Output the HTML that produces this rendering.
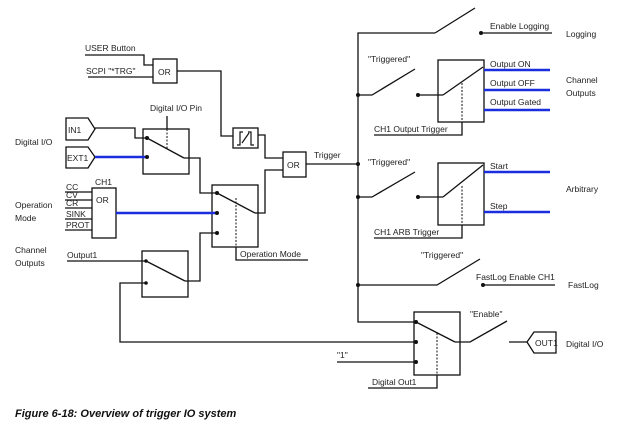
<!DOCTYPE html>
<html><head><meta charset="utf-8"><style>
html,body{margin:0;padding:0;background:#fff;}
svg{display:block}
text{font-family:"Liberation Sans",sans-serif;font-size:8.5px;fill:#222}
</style></head><body>
<svg width="619" height="436" viewBox="0 0 619 436" xmlns="http://www.w3.org/2000/svg">
<g fill="none" stroke="#111" stroke-width="1.3">
<!-- USER/SCPI OR -->
<polyline points="85,55 144,55 144,65 153,65"/>
<line x1="88" y1="77" x2="153" y2="77"/>
<rect x="153" y="59" width="24" height="24"/>
<polyline points="177,71 221,71 221,136 233,136"/>
<rect x="233" y="128" width="25" height="20"/>
<polyline points="258,135 265,135 265,158 283,158"/>
<rect x="283" y="152" width="23" height="25"/>
<line x1="306" y1="164" x2="358" y2="164"/>
<polyline points="258,213 265,213 265,170 283,170"/>
<!-- Digital IO pin -->
<line x1="167" y1="116" x2="167" y2="129"/>
<rect x="143" y="129" width="46" height="45"/>
<polyline points="95,128 135,128 135,138 147,138"/>
<line x1="147" y1="138" x2="184" y2="158"/>
<polyline points="184,158 200,158 200,193 217,193"/>
<polygon points="66,118 88,118 95,129 88,140 66,140"/>
<polygon points="66,147 88,147 95,157 88,168 66,168"/>
<!-- CH1 OR -->
<rect x="92" y="188" width="24" height="50"/>
<line x1="65" y1="192" x2="92" y2="192"/><line x1="65" y1="200" x2="92" y2="200"/>
<line x1="65" y1="208" x2="92" y2="208"/><line x1="65" y1="219" x2="92" y2="219"/>
<line x1="65" y1="230" x2="92" y2="230"/>
<!-- Op mode box -->
<rect x="212" y="185" width="46" height="62"/>
<line x1="217" y1="193" x2="255" y2="213"/>
<line x1="255" y1="213" x2="258" y2="213"/>
<polyline points="236,247 236,260 308,260"/>
<!-- Output1 box -->
<line x1="67" y1="261" x2="146" y2="261"/>
<rect x="142" y="251" width="46" height="46"/>
<line x1="146" y1="261" x2="185" y2="281"/>
<polyline points="185,281 200,281 200,233 217,233"/>
<polyline points="146,283 120,283 120,342 416,342"/>
<!-- Bus -->
<polyline points="435,33 358,33 358,322 416,322"/>
<line x1="435" y1="33" x2="475" y2="8"/>
<line x1="481" y1="33" x2="552" y2="33"/>
<!-- Output trigger -->
<polyline points="358,95 372,95 415,69"/>
<line x1="418" y1="95" x2="443" y2="95"/>
<rect x="438" y="60" width="46" height="62"/>
<line x1="443" y1="95" x2="483" y2="67"/>
<polyline points="462,122 462,135 374,135"/>
<!-- ARB trigger -->
<polyline points="358,197 372,197 415,172"/>
<line x1="418" y1="197" x2="443" y2="197"/>
<rect x="438" y="163" width="46" height="62"/>
<line x1="443" y1="197" x2="483" y2="165"/>
<polyline points="462,225 462,238 374,238"/>
<!-- FastLog -->
<polyline points="358,285 437,285 480,259"/>
<line x1="483" y1="285" x2="555" y2="285"/>
<!-- Digital out -->
<rect x="414" y="312" width="46" height="63"/>
<line x1="416" y1="322" x2="455" y2="342"/>
<polyline points="455,342 470,342 507,321"/>
<line x1="337" y1="362" x2="416" y2="362"/>
<polyline points="437,375 437,388 368,388"/>
<line x1="509" y1="342" x2="527" y2="342"/>
<polygon points="527,342 534,332 556,332 556,353 534,353"/>
</g>
<g stroke="#111" stroke-width="1" stroke-dasharray="2,1.5" fill="none">
<line x1="167" y1="129" x2="167" y2="150"/>
<line x1="236" y1="198" x2="236" y2="247"/>
<line x1="462" y1="83" x2="462" y2="122"/>
<line x1="462" y1="186" x2="462" y2="225"/>
<line x1="437" y1="333" x2="437" y2="375"/>
</g>
<!-- edge symbol -->
<g stroke="#111" stroke-width="1.2" fill="none">
<polyline points="237,145 240,145 240,132 243,132"/><polyline points="248,132 251,132 251,145 254,145"/>
<line x1="242" y1="143" x2="249" y2="133"/>
</g>
<g stroke="#1a2ee0" stroke-width="2.6">
<line x1="95" y1="157" x2="147" y2="157"/>
<line x1="116" y1="213" x2="217" y2="213"/>
<line x1="484" y1="70" x2="550" y2="70"/><line x1="484" y1="90" x2="550" y2="90"/>
<line x1="484" y1="110" x2="550" y2="110"/>
<line x1="484" y1="172" x2="550" y2="172"/><line x1="484" y1="212" x2="550" y2="212"/>
</g>
<g fill="#111">
<circle cx="147" cy="138" r="2"/><circle cx="147" cy="157" r="2"/>
<circle cx="217" cy="193" r="2"/><circle cx="217" cy="213" r="2"/><circle cx="217" cy="233" r="2"/>
<circle cx="146" cy="261" r="1.8"/><circle cx="146" cy="283" r="1.8"/>
<circle cx="481" cy="33" r="2"/><circle cx="358" cy="95" r="2"/><circle cx="418" cy="95" r="2"/>
<circle cx="358" cy="164" r="2"/><circle cx="358" cy="197" r="2"/><circle cx="418" cy="197" r="2"/>
<circle cx="358" cy="285" r="2"/><circle cx="483" cy="285" r="2"/>
<circle cx="416" cy="322" r="2"/><circle cx="416" cy="342" r="2"/><circle cx="416" cy="362" r="2"/>
</g>
<text x="85" y="51">USER Button</text>
<text x="86" y="74">SCPI "*TRG"</text>
<text x="158" y="75">OR</text>
<text x="287" y="168">OR</text>
<text x="314" y="158">Trigger</text>
<text x="150" y="111">Digital I/O Pin</text>
<text x="15" y="145">Digital I/O</text>
<text x="68" y="133">IN1</text>
<text x="67" y="161">EXT1</text>
<text x="95" y="185">CH1</text>
<text x="96" y="203">OR</text>
<g style="font-size:5.5px"><text x="66" y="190">CC</text><text x="66" y="198">CV</text><text x="66" y="206">CR</text><text x="66" y="217">SINK</text><text x="66" y="228">PROT</text></g>
<text x="15" y="208">Operation</text><text x="15" y="221">Mode</text>
<text x="15" y="253">Channel</text><text x="15" y="266">Outputs</text>
<text x="67" y="258">Output1</text>
<text x="240" y="257">Operation Mode</text>
<text x="490" y="29">Enable Logging</text>
<text x="566" y="37">Logging</text>
<text x="368" y="62">"Triggered"</text>
<text x="490" y="67">Output ON</text>
<text x="490" y="86">Output OFF</text>
<text x="490" y="105">Output Gated</text>
<text x="566" y="83">Channel</text><text x="566" y="96">Outputs</text>
<text x="374" y="132">CH1  Output Trigger</text>
<text x="368" y="165">"Triggered"</text>
<text x="490" y="169">Start</text>
<text x="490" y="209">Step</text>
<text x="566" y="192">Arbitrary</text>
<text x="374" y="235">CH1  ARB Trigger</text>
<text x="421" y="258">"Triggered"</text>
<text x="476" y="280">FastLog Enable CH1</text>
<text x="568" y="288">FastLog</text>
<text x="470" y="317">"Enable"</text>
<text x="337" y="358">"1"</text>
<text x="372" y="385">Digital Out1</text>
<text x="535" y="346">OUT1</text>
<text x="566" y="347">Digital I/O</text>
<text x="15" y="417" style="font-size:11px;font-weight:bold;font-style:italic;fill:#111">Figure 6-18: Overview of trigger IO system</text>
</svg>
</body></html>
